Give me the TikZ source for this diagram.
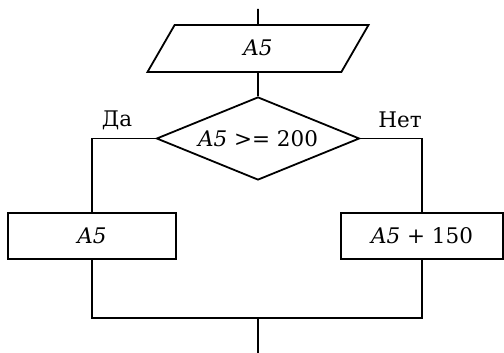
\documentclass[tikz,border=0pt]{standalone}
\usepackage{fontspec}
\setmainfont{DejaVu Serif}
\usetikzlibrary{positioning,shapes.geometric}

\begin{document}
\begin{tikzpicture}[x=1pt,y=-1pt,line width=1.8pt,font=\fontsize{21.5}{25}\selectfont,
 iobox/.style={draw,trapezium,trapezium left angle=60,trapezium right angle=120,trapezium stretches body,minimum width=221pt,text height=14pt,text depth=0pt,inner xsep=0pt,inner ysep=16.5pt},
 decision/.style={draw,diamond,aspect=2.45,minimum width=203pt,minimum height=83pt,inner sep=0pt},
 process/.style={draw,rectangle,minimum height=46pt,inner sep=0pt}]
\useasboundingbox (0,0) rectangle (504,353);
\coordinate (start) at (258,9);
\node[iobox] (input) at (258,48.5) {\textit{A5}};
\node[decision] (check) at (258,138.5) {\textit{A5} >= 200};
\node[process,minimum width=168pt] (yes) at (92,236) {\textit{A5}};
\node[process,minimum width=162pt] (no) at (422,236) {\textit{A5} + 150};
\node (yeslabel) at (117,120) {Да};
\node (nolabel) at (400,120) {Нет};
\coordinate (join) at (258,318);
\coordinate (stop) at (258,353);
\draw (start)--(input.north);
\draw (input.south)--(check.north);
\draw (check.west)-|(yes.north);
\draw (check.east)-|(no.north);
\draw (yes.south)|-(join)-|(no.south);
\draw (join)--(stop);
\end{tikzpicture}
\end{document}
